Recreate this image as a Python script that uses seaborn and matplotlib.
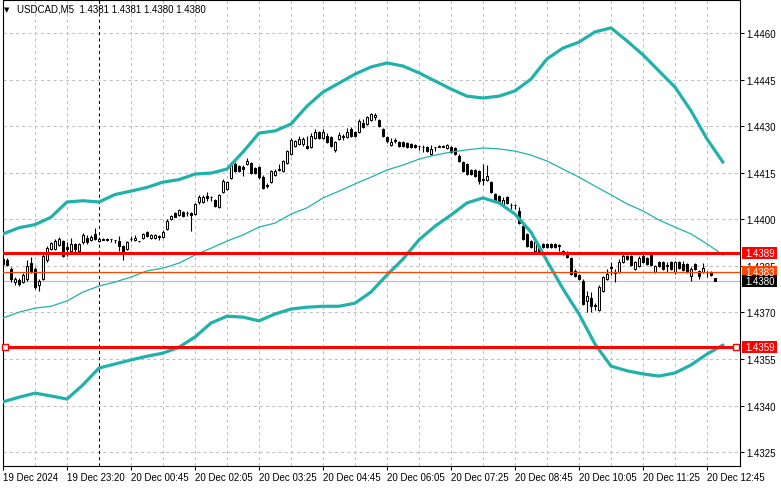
import numpy as np
import pandas as pd
import matplotlib
matplotlib.use("Agg")
import matplotlib.pyplot as plt
import seaborn as sns
from matplotlib.transforms import blended_transform_factory
from matplotlib.patches import Rectangle

# ---------------- data ----------------
header = "USDCAD,M5  1.4381 1.4381 1.4380 1.4380"

time_labels = ["19 Dec 2024", "19 Dec 23:20", "20 Dec 00:45", "20 Dec 02:05",
               "20 Dec 03:25", "20 Dec 04:45", "20 Dec 06:05", "20 Dec 07:25",
               "20 Dec 08:45", "20 Dec 10:05", "20 Dec 11:25", "20 Dec 12:45"]
time_label_bars = [0, 16, 32, 48, 64, 80, 96, 112, 128, 144, 160, 176]

price_ticks = [1.4325, 1.4340, 1.4355, 1.4370, 1.4385, 1.4400,
               1.4415, 1.4430, 1.4445, 1.4460]

opens = [1.43872, 1.43869, 1.43840, 1.43798, 1.43805, 1.43798, 1.43808, 1.43859,
         1.43840, 1.43789, 1.43808, 1.43869, 1.43904, 1.43904, 1.43918, 1.43930,
         1.43911, 1.43898, 1.43921, 1.43898, 1.43927, 1.43940, 1.43934, 1.43953,
         1.43930, 1.43937, 1.43938, 1.43937, 1.43934, 1.43930, 1.43914, 1.43904,
         1.43937, 1.43934, 1.43930, 1.43940, 1.43959, 1.43940, 1.43940, 1.43943,
         1.43943, 1.43969, 1.44001, 1.44020, 1.44014, 1.44023, 1.44020, 1.44020,
         1.44017, 1.44056, 1.44056, 1.44075, 1.44072, 1.44063, 1.44040, 1.44088,
         1.44098, 1.44133, 1.44178, 1.44171, 1.44168, 1.44178, 1.44181, 1.44165,
         1.44168, 1.44136, 1.44111, 1.44120, 1.44143, 1.44159, 1.44156, 1.44181,
         1.44211, 1.44236, 1.44243, 1.44243, 1.44236, 1.44233, 1.44262, 1.44281,
         1.44262, 1.44269, 1.44265, 1.44224, 1.44259, 1.44265, 1.44265, 1.44291,
         1.44281, 1.44281, 1.44310, 1.44307, 1.44320, 1.44330, 1.44320, 1.44291,
         1.44265, 1.44240, 1.44253, 1.44249, 1.44249, 1.44246, 1.44243, 1.44240,
         1.44236, 1.44233, 1.44233, 1.44211, 1.44233, 1.44236, 1.44236, 1.44230,
         1.44233, 1.44230, 1.44204, 1.44184, 1.44178, 1.44159, 1.44159, 1.44156,
         1.44130, 1.44127, 1.44120, 1.44082, 1.44075, 1.44047, 1.44072, 1.44047,
         1.44047, 1.44027, 1.43979, 1.43953, 1.43930, 1.43898, 1.43914, 1.43921,
         1.43921, 1.43921, 1.43921, 1.43918, 1.43898, 1.43894, 1.43875, 1.43834,
         1.43821, 1.43802, 1.43737, 1.43747, 1.43724, 1.43708, 1.43769, 1.43808,
         1.43843, 1.43827, 1.43830, 1.43862, 1.43881, 1.43881, 1.43840, 1.43849,
         1.43881, 1.43875, 1.43885, 1.43830, 1.43862, 1.43862, 1.43853, 1.43862,
         1.43830, 1.43862, 1.43856, 1.43856, 1.43817, 1.43856, 1.43834, 1.43830,
         1.43830, 1.43830, 1.43810]

highs = [1.43878, 1.43875, 1.43846, 1.43814, 1.43811, 1.43827, 1.43869, 1.43878,
         1.43846, 1.43808, 1.43888, 1.43914, 1.43927, 1.43937, 1.43943, 1.43934,
         1.43927, 1.43940, 1.43924, 1.43924, 1.43956, 1.43950, 1.43950, 1.43972,
         1.43943, 1.43940, 1.43940, 1.43938, 1.43935, 1.43946, 1.43918, 1.43930,
         1.43946, 1.43950, 1.43931, 1.43956, 1.43962, 1.43953, 1.43953, 1.43950,
         1.43966, 1.44001, 1.44014, 1.44023, 1.44033, 1.44027, 1.44027, 1.44023,
         1.44053, 1.44079, 1.44079, 1.44088, 1.44075, 1.44066, 1.44082, 1.44130,
         1.44124, 1.44184, 1.44184, 1.44175, 1.44175, 1.44197, 1.44184, 1.44168,
         1.44171, 1.44143, 1.44117, 1.44159, 1.44162, 1.44178, 1.44191, 1.44224,
         1.44262, 1.44256, 1.44269, 1.44265, 1.44269, 1.44278, 1.44291, 1.44285,
         1.44291, 1.44278, 1.44269, 1.44253, 1.44281, 1.44275, 1.44294, 1.44297,
         1.44285, 1.44323, 1.44323, 1.44333, 1.44343, 1.44343, 1.44323, 1.44294,
         1.44269, 1.44262, 1.44262, 1.44253, 1.44253, 1.44249, 1.44246, 1.44243,
         1.44237, 1.44240, 1.44236, 1.44240, 1.44234, 1.44238, 1.44238, 1.44243,
         1.44236, 1.44233, 1.44211, 1.44188, 1.44181, 1.44162, 1.44162, 1.44159,
         1.44178, 1.44175, 1.44124, 1.44085, 1.44079, 1.44072, 1.44075, 1.44053,
         1.44048, 1.44040, 1.43982, 1.43956, 1.43934, 1.43930, 1.43918, 1.43924,
         1.43924, 1.43924, 1.43924, 1.43921, 1.43901, 1.43898, 1.43878, 1.43840,
         1.43824, 1.43808, 1.43769, 1.43766, 1.43730, 1.43789, 1.43817, 1.43840,
         1.43862, 1.43840, 1.43872, 1.43894, 1.43885, 1.43885, 1.43866, 1.43881,
         1.43888, 1.43878, 1.43894, 1.43853, 1.43866, 1.43866, 1.43862, 1.43866,
         1.43866, 1.43866, 1.43866, 1.43859, 1.43846, 1.43859, 1.43837, 1.43859,
         1.43834, 1.43834, 1.43810]

lows = [1.43849, 1.43849, 1.43798, 1.43789, 1.43785, 1.43795, 1.43802, 1.43827,
        1.43776, 1.43770, 1.43805, 1.43862, 1.43901, 1.43901, 1.43914, 1.43878,
        1.43881, 1.43894, 1.43894, 1.43894, 1.43921, 1.43921, 1.43930, 1.43934,
        1.43927, 1.43934, 1.43930, 1.43927, 1.43924, 1.43898, 1.43869, 1.43901,
        1.43930, 1.43930, 1.43928, 1.43937, 1.43943, 1.43937, 1.43937, 1.43934,
        1.43940, 1.43966, 1.43998, 1.44007, 1.44011, 1.44007, 1.44011, 1.43963,
        1.44014, 1.44050, 1.44053, 1.44060, 1.44060, 1.44040, 1.44037, 1.44085,
        1.44095, 1.44130, 1.44152, 1.44152, 1.44139, 1.44175, 1.44146, 1.44146,
        1.44130, 1.44098, 1.44101, 1.44117, 1.44139, 1.44156, 1.44152, 1.44178,
        1.44207, 1.44233, 1.44240, 1.44236, 1.44227, 1.44230, 1.44259, 1.44259,
        1.44259, 1.44246, 1.44233, 1.44217, 1.44256, 1.44256, 1.44262, 1.44265,
        1.44265, 1.44278, 1.44294, 1.44304, 1.44317, 1.44320, 1.44297, 1.44265,
        1.44246, 1.44236, 1.44246, 1.44233, 1.44233, 1.44230, 1.44230, 1.44230,
        1.44224, 1.44217, 1.44217, 1.44207, 1.44220, 1.44232, 1.44233, 1.44227,
        1.44213, 1.44207, 1.44184, 1.44152, 1.44143, 1.44143, 1.44136, 1.44114,
        1.44111, 1.44124, 1.44085, 1.44056, 1.44056, 1.44043, 1.44050, 1.44033,
        1.44033, 1.43985, 1.43934, 1.43911, 1.43907, 1.43894, 1.43894, 1.43907,
        1.43907, 1.43907, 1.43907, 1.43898, 1.43885, 1.43875, 1.43821, 1.43814,
        1.43805, 1.43724, 1.43701, 1.43701, 1.43708, 1.43705, 1.43766, 1.43805,
        1.43821, 1.43798, 1.43827, 1.43859, 1.43869, 1.43849, 1.43837, 1.43846,
        1.43859, 1.43853, 1.43849, 1.43827, 1.43846, 1.43837, 1.43830, 1.43837,
        1.43824, 1.43840, 1.43834, 1.43827, 1.43802, 1.43837, 1.43808, 1.43827,
        1.43814, 1.43817, 1.43800]

closes = [1.43856, 1.43853, 1.43808, 1.43808, 1.43792, 1.43821, 1.43849, 1.43830,
          1.43782, 1.43802, 1.43881, 1.43907, 1.43924, 1.43930, 1.43937, 1.43881,
          1.43904, 1.43921, 1.43904, 1.43921, 1.43950, 1.43927, 1.43943, 1.43937,
          1.43937, 1.43935, 1.43934, 1.43936, 1.43933, 1.43914, 1.43898, 1.43927,
          1.43936, 1.43940, 1.43930, 1.43953, 1.43946, 1.43950, 1.43950, 1.43945,
          1.43959, 1.43995, 1.44011, 1.44009, 1.44030, 1.44011, 1.44022, 1.44014,
          1.44050, 1.44072, 1.44072, 1.44069, 1.44073, 1.44043, 1.44079, 1.44124,
          1.44120, 1.44175, 1.44156, 1.44156, 1.44162, 1.44188, 1.44149, 1.44149,
          1.44136, 1.44101, 1.44107, 1.44156, 1.44156, 1.44162, 1.44188, 1.44220,
          1.44256, 1.44253, 1.44259, 1.44259, 1.44230, 1.44269, 1.44281, 1.44262,
          1.44281, 1.44249, 1.44236, 1.44249, 1.44272, 1.44267, 1.44281, 1.44269,
          1.44269, 1.44317, 1.44297, 1.44330, 1.44340, 1.44336, 1.44301, 1.44269,
          1.44253, 1.44249, 1.44256, 1.44236, 1.44236, 1.44233, 1.44233, 1.44233,
          1.44235, 1.44232, 1.44220, 1.44227, 1.44232, 1.44233, 1.44234, 1.44240,
          1.44217, 1.44211, 1.44188, 1.44156, 1.44146, 1.44146, 1.44139, 1.44124,
          1.44127, 1.44139, 1.44088, 1.44060, 1.44060, 1.44063, 1.44053, 1.44045,
          1.44046, 1.43988, 1.43937, 1.43914, 1.43911, 1.43927, 1.43898, 1.43911,
          1.43911, 1.43911, 1.43911, 1.43914, 1.43888, 1.43878, 1.43824, 1.43817,
          1.43808, 1.43727, 1.43753, 1.43721, 1.43721, 1.43782, 1.43814, 1.43824,
          1.43845, 1.43829, 1.43862, 1.43881, 1.43872, 1.43853, 1.43862, 1.43875,
          1.43862, 1.43856, 1.43853, 1.43849, 1.43849, 1.43840, 1.43851, 1.43840,
          1.43862, 1.43843, 1.43837, 1.43830, 1.43840, 1.43840, 1.43817, 1.43843,
          1.43829, 1.43821, 1.43800]

# Bollinger bands every 4 bars
band_bars = [-1, 0, 4, 8, 12, 16, 20, 24, 28, 32, 36, 40, 44, 48, 52, 56, 60,
             64, 68, 72, 76, 80, 84, 88, 92, 96, 100, 104, 108, 112, 116, 120,
             124, 128, 132, 136, 140, 144, 148, 152, 156, 160, 164, 168, 172,
             176, 180]
band_upper = [1.43940, 1.43953, 1.43973, 1.43983, 1.44007, 1.44056, 1.44060,
              1.44056, 1.44080, 1.44091, 1.44103, 1.44120, 1.44128, 1.44146,
              1.44149, 1.44162, 1.44217, 1.44278, 1.44285, 1.44307, 1.44365,
              1.44410, 1.44439, 1.44468, 1.44491, 1.44504, 1.44494, 1.44472,
              1.44446, 1.44420, 1.44397, 1.44391, 1.44397, 1.44414, 1.44452,
              1.44517, 1.44552, 1.44571, 1.44604, 1.44617, 1.44575, 1.44530,
              1.44478, 1.44426, 1.44350, 1.44259, 1.44184]
band_middle = [1.43676, 1.43682, 1.43701, 1.43714, 1.43720, 1.43737, 1.43766,
               1.43785, 1.43798, 1.43814, 1.43834, 1.43843, 1.43859, 1.43885,
               1.43907, 1.43930, 1.43950, 1.43975, 1.43988, 1.44017, 1.44037,
               1.44069, 1.44091, 1.44114, 1.44136, 1.44159, 1.44175, 1.44194,
               1.44207, 1.44217, 1.44224, 1.44230, 1.44227, 1.44220, 1.44207,
               1.44188, 1.44162, 1.44136, 1.44107, 1.44079, 1.44050, 1.44027,
               1.43998, 1.43975, 1.43953, 1.43921, 1.43885]
band_lower = [1.43408, 1.43412, 1.43427, 1.43440, 1.43431, 1.43421, 1.43467,
              1.43521, 1.43534, 1.43547, 1.43559, 1.43569, 1.43588, 1.43621,
              1.43666, 1.43688, 1.43685, 1.43673, 1.43695, 1.43711, 1.43717,
              1.43720, 1.43720, 1.43730, 1.43766, 1.43821, 1.43872, 1.43934,
              1.43978, 1.44014, 1.44053, 1.44069, 1.44053, 1.44017, 1.43959,
              1.43866, 1.43776, 1.43695, 1.43598, 1.43527, 1.43512, 1.43502,
              1.43495, 1.43505, 1.43531, 1.43566, 1.43595]

red_levels = [1.4389, 1.4359]
orange_level = 1.4383
bid_level = 1.4380

# ---------------- style ----------------
sns.set_style("white")
plt.rcParams["font.family"] = ["Liberation Sans", "DejaVu Sans"]
plt.rcParams["font.size"] = 7

W, H = 781, 489
fig = plt.figure(figsize=(W / 100, H / 100), dpi=100)
fig.patch.set_facecolor("white")
ax = fig.add_axes([2.5 / W, 22 / H, 737.5 / W, 466 / H])
ax.set_facecolor("white")
ax.set_xlim(-0.125, 184.25)
ax.set_ylim(1.432053, 1.447068)

grid_kw = dict(color="#c0c0c0", lw=0.75, ls=(0, (3, 3)), zorder=0)
for p in price_ticks:
    ax.axhline(p, **grid_kw)
for i in range(8, 184, 8):
    if i == 24:
        ax.axvline(i, color="black", lw=0.75, ls=(0, (3, 3)), zorder=1)
    else:
        ax.axvline(i, **grid_kw)

# bid line
ax.axhline(bid_level, color="#c0c0c0", lw=0.9, zorder=1)

# ---------------- candles ----------------
df = pd.DataFrame({"bar": np.arange(len(opens)), "open": opens, "high": highs,
                   "low": lows, "close": closes})
bull = df["close"] >= df["open"]
ax.vlines(df["bar"], df["low"], df["high"], color="black", lw=0.8, zorder=3)
ax.bar(df["bar"], (df["close"] - df["open"]).abs(),
       bottom=np.minimum(df["open"], df["close"]), width=0.55,
       color=np.where(bull, "white", "black"), edgecolor="black",
       linewidth=0.75, zorder=4)

# ---------------- Bollinger bands (seaborn) ----------------
teal = "#20b2aa"
bands = pd.DataFrame({"bar": band_bars * 3,
                      "price": band_upper + band_middle + band_lower,
                      "band": ["upper"] * len(band_bars) + ["middle"] * len(band_bars)
                              + ["lower"] * len(band_bars)})
for name, lw in [("upper", 2.3), ("middle", 0.9), ("lower", 2.3)]:
    sns.lineplot(data=bands[bands["band"] == name], x="bar", y="price",
                 color=teal, lw=lw, ax=ax, estimator=None, sort=False,
                 legend=False, zorder=5)

# ---------------- horizontal levels ----------------
for lv in red_levels:
    ax.axhline(lv, color="#ff0000", lw=2.2, zorder=6)
ax.axhline(orange_level, color="#ff4500", lw=0.9, zorder=6)
ax.plot([0.5, 183.3], [red_levels[1]] * 2, ls="none", marker="s", ms=4,
        mfc="white", mec="#ff0000", mew=1.0, zorder=7, clip_on=False)

# ---------------- axes ----------------
ax.set_xlabel("")
ax.set_ylabel("")
ax.yaxis.tick_right()
ax.set_yticks(price_ticks)
ax.set_yticklabels([f"{p:.4f}" for p in price_ticks])
ax.set_xticks(time_label_bars)
ax.set_xticklabels(time_labels, ha="left")
ax.tick_params(axis="y", direction="out", length=3, width=0.75, pad=1.5,
               labelsize=7, colors="black", right=True, left=False)
ax.tick_params(axis="x", direction="out", length=3, width=0.75, pad=1,
               labelsize=7, colors="black", bottom=True)
for s in ax.spines.values():
    s.set_visible(True)
    s.set_color("black")
    s.set_linewidth(0.8)

# price boxes on the right axis
trans = blended_transform_factory(fig.transFigure, ax.transData)
box_h = 12 * (1.447068 - 1.432053) / 466
for lv, fc in [(red_levels[0], "#ff0000"), (orange_level, "#ff4500"),
               (bid_level, "#000000"), (red_levels[1], "#ff0000")]:
    ax.add_patch(Rectangle((742 / W, lv - box_h / 2), 35 / W, box_h,
                           transform=trans, facecolor=fc, edgecolor="none",
                           clip_on=False, zorder=10))
    ax.text(745 / W, lv, f"{lv:.4f}", transform=trans, color="white",
            ha="left", va="center", fontsize=7, zorder=11, clip_on=False)

# header
fig.text(4 / W, 1 - 10 / H, "▼", fontsize=5, family="DejaVu Sans",
         va="center", ha="left", color="black")
fig.text(17 / W, 1 - 10 / H, header, fontsize=7, va="center", ha="left",
         color="black")

fig.savefig("out.png", dpi=100, facecolor="white")
